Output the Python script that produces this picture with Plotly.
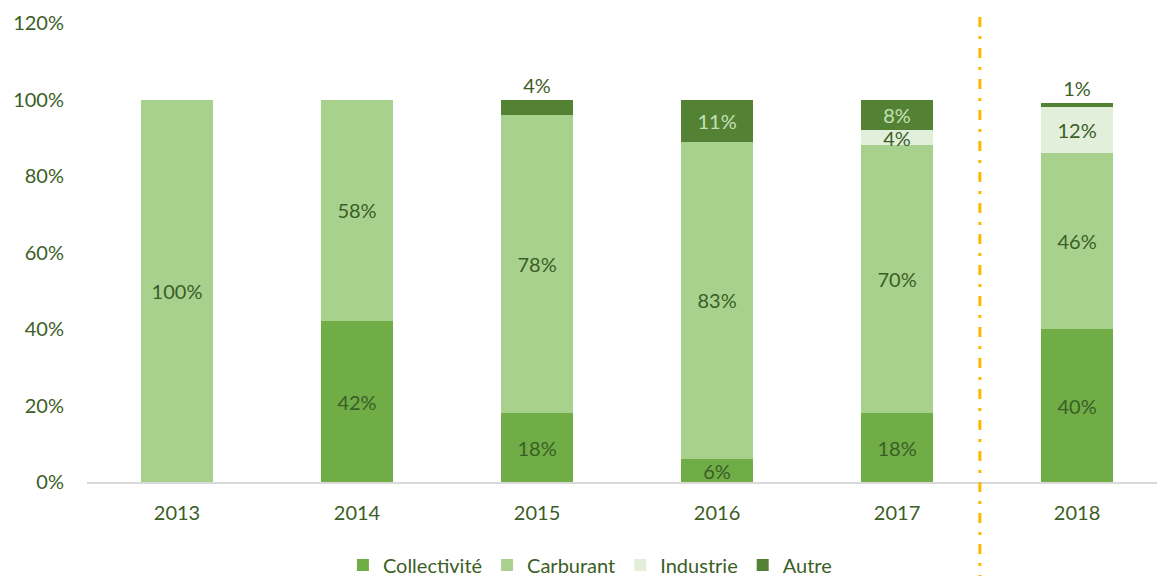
import plotly.graph_objects as go

years = ["2013", "2014", "2015", "2016", "2017", "2018"]
collectivite = [0, 42, 18, 6, 18, 40]
carburant = [100, 58, 78, 83, 70, 46]
industrie = [0, 0, 0, 0, 4, 12]
autre = [0, 0, 4, 11, 8, 1]
autre_outside = [False, False, True, False, False, True]
y_ticks = [0, 20, 40, 60, 80, 100, 120]
separator_x = 4.46

FONT = "Lato, 'Open Sans', sans-serif"
DARK = "#3B5E26"
LIGHT = "#C5E0B4"


def labels(vals):
    return [f"{v}%" if v else "" for v in vals]


fig = go.Figure()
series = [
    ("Collectivité", collectivite, "#70AD47"),
    ("Carburant", carburant, "#A9D18E"),
    ("Industrie", industrie, "#E2EFDA"),
]
for name, vals, col in series:
    fig.add_trace(go.Bar(
        name=name, x=years, y=vals, marker=dict(color=col, line=dict(width=0)),
        text=labels(vals), textposition="inside", insidetextanchor="middle",
        textangle=0, constraintext="none",
        insidetextfont=dict(family=FONT, size=20, color=DARK),
    ))

fig.add_trace(go.Bar(
    name="Autre", x=years, y=autre, marker=dict(color="#548235", line=dict(width=0)),
    text=labels(autre),
    textposition=["outside" if o else "inside" for o in autre_outside],
    insidetextanchor="middle", textangle=0, constraintext="none",
    insidetextfont=dict(family=FONT, size=20, color=LIGHT),
    outsidetextfont=dict(family=FONT, size=20, color=DARK),
    cliponaxis=False,
))

fig.add_shape(
    type="line", xref="x", yref="paper",
    x0=separator_x, x1=separator_x, y0=1.013, y1=-0.21,
    line=dict(color="#FFB800", width=3, dash="10px,9px,3px,9px"),
)

fig.update_layout(
    barmode="stack", bargap=0.6,
    width=1157, height=576,
    margin=dict(l=87, r=0, t=23, b=94, autoexpand=False),
    paper_bgcolor="white", plot_bgcolor="white",
    font=dict(family=FONT, size=20, color=DARK),
    showlegend=True,
    legend=dict(
        orientation="h", x=0.47, xanchor="center", y=-0.181, yanchor="middle",
        font=dict(family=FONT, size=20, color=DARK), traceorder="normal",
        itemwidth=30,
    ),
    xaxis=dict(
        range=[-0.5, 5.444], showgrid=False, showline=True,
        linecolor="#D9D9D9", linewidth=1.5, ticks="", ticklabelstandoff=12,
        tickfont=dict(family=FONT, size=20, color=DARK), fixedrange=True,
        automargin=False,
    ),
    yaxis=dict(
        range=[0, 120], tickvals=y_ticks, ticktext=[f"{t}%" for t in y_ticks],
        showgrid=False, zeroline=False, showline=False, ticks="",
        ticklabelstandoff=22, automargin=False, fixedrange=True,
        tickfont=dict(family=FONT, size=20, color=DARK),
    ),
)

fig.write_html(
    "out.html",
    config={"displayModeBar": False},
    post_script="document.body.style.margin='0';document.body.style.overflow='hidden';",
)
